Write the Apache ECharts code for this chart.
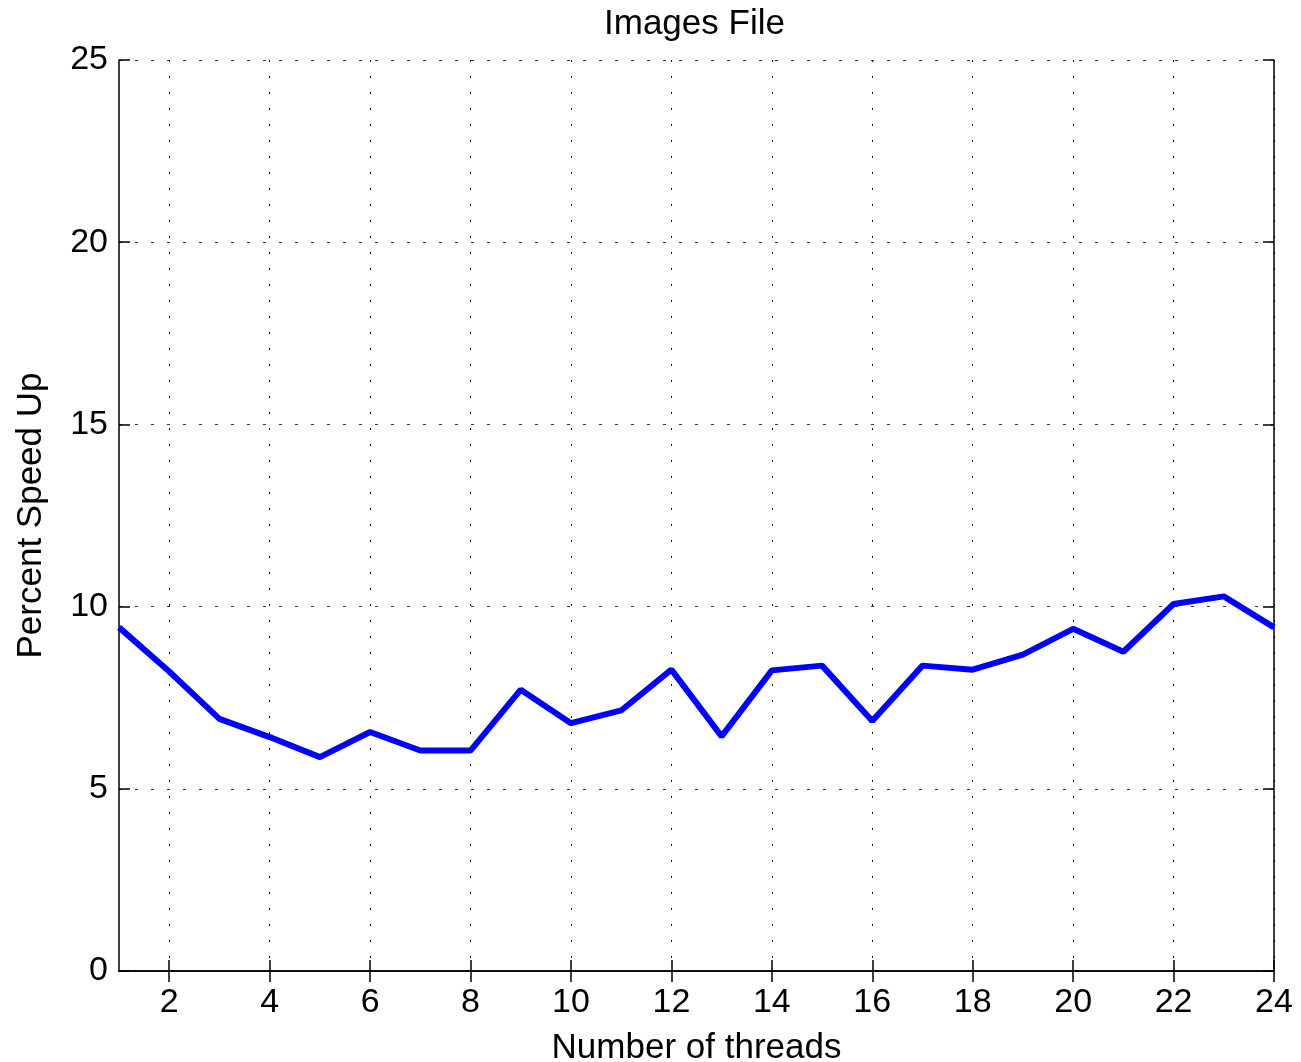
<!DOCTYPE html>
<html>
<head>
<meta charset="utf-8">
<script src="https://cdn.jsdelivr.net/npm/echarts@6/dist/echarts.min.js"></script>
<style>
html,body{margin:0;padding:0;background:#fff;}
#c{width:1301px;height:1062px;}
</style>
</head>
<body>
<div id="c"></div>
<script>
const threads = [1,2,3,4,5,6,7,8,9,10,11,12,13,14,15,16,17,18,19,20,21,22,23,24];
const speedUp = [9.43,8.22,6.92,6.42,5.87,6.56,6.05,6.05,7.72,6.80,7.15,8.27,6.44,8.25,8.38,6.86,8.38,8.27,8.68,9.39,8.76,10.07,10.28,9.43];
const xTicks = [2,4,6,8,10,12,14,16,18,20,22,24];
const yTicks = [0,5,10,15,20,25];

const FONT = '"Liberation Sans", Arial, sans-serif';
const gridDash = {color:'#111', width:1, type:[2,14]};

const chart = echarts.init(document.getElementById('c'), null, {renderer:'canvas'});
const axisLineStyle = {show:true, lineStyle:{color:'#000', width:1.5}};
chart.setOption({
  animation:false,
  backgroundColor:'#fff',
  title:{text:'Images File', left:604, top:7, padding:0,
    textStyle:{fontFamily:FONT, fontSize:35, fontWeight:'normal', color:'#000'}},
  grid:{left:119, right:27, top:60, bottom:91, containLabel:false, outerBoundsMode:'none'},
  xAxis:[{
    type:'value', min:1, max:24,
    name:'Number of threads', nameLocation:'middle', nameGap:60,
    nameTextStyle:{fontFamily:FONT, fontSize:35, color:'#000'},
    axisLine:axisLineStyle,
    axisTick:{show:true, inside:true, length:11, customValues:xTicks, lineStyle:{color:'#000', width:1.5}},
    axisLabel:{customValues:xTicks, fontFamily:FONT, fontSize:34, color:'#000', margin:15},
    splitLine:{show:true, lineStyle:gridDash}
  },{
    type:'value', min:1, max:24, position:'top',
    axisLine:axisLineStyle,
    axisTick:{show:true, inside:true, length:11, customValues:xTicks, lineStyle:{color:'#000', width:1.5}},
    axisLabel:{show:false},
    splitLine:{show:false}
  }],
  yAxis:[{
    type:'value', min:0, max:25, interval:5,
    name:'Percent Speed Up', nameLocation:'middle', nameGap:70,
    nameTextStyle:{fontFamily:FONT, fontSize:35, color:'#000'},
    axisLine:axisLineStyle,
    axisTick:{show:true, inside:true, length:11, lineStyle:{color:'#000', width:1.5}},
    axisLabel:{fontFamily:FONT, fontSize:34, color:'#000', margin:11},
    splitLine:{show:true, lineStyle:{color:'#333', width:1, type:[3,13]}}
  },{
    type:'value', min:0, max:25, interval:5, position:'right',
    axisLine:axisLineStyle,
    axisTick:{show:true, inside:true, length:11, lineStyle:{color:'#000', width:1.5}},
    axisLabel:{show:false},
    splitLine:{show:false}
  }],
  series:[{
    type:'line',
    data: threads.map((t,i)=>[t, speedUp[i]]),
    showSymbol:false,
    symbol:'none',
    lineStyle:{color:'#0000ff', width:6},
    itemStyle:{color:'#0000ff'},
    clip:false
  }]
});
</script>
</body>
</html>
